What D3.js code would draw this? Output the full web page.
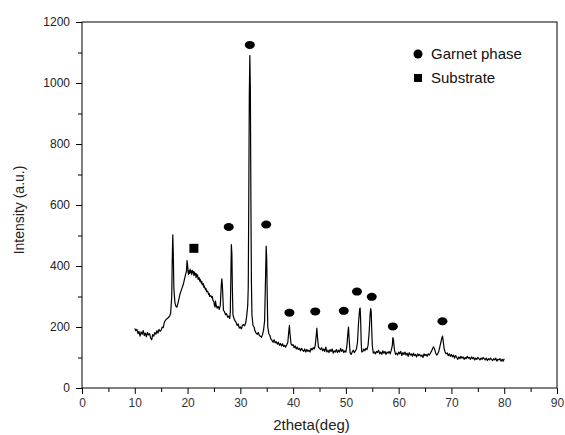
<!DOCTYPE html>
<html><head><meta charset="utf-8">
<script src="https://cdn.jsdelivr.net/npm/d3@7"></script>
<style>
html,body{margin:0;padding:0;background:#fff;}
svg{display:block;font-family:"Liberation Sans",Arial,sans-serif;}
</style></head>
<body><svg id="chart" width="565" height="435"></svg>
<script>
// XRD pattern: [2theta, intensity]
const pattern = [
[10.0,195],[10.2,188],[10.4,192],[10.6,178],[10.8,186],[11.0,170],[11.2,184],[11.4,176],[11.6,188],[11.8,172],
[12.0,180],[12.2,168],[12.4,182],[12.6,174],[12.8,178],[13.0,164],[13.2,158],[13.4,175],[13.6,170],[13.8,182],
[14.0,176],[14.2,188],[14.4,180],[14.6,192],[14.8,186],[15.0,190],[15.2,200],[15.4,198],[15.6,215],[15.8,222],
[16.0,226],[16.2,228],[16.4,232],[16.6,236],[16.8,245],[17.0,300],[17.1,420],[17.2,502],[17.3,440],[17.4,330],
[17.6,280],[17.8,268],[18.0,265],[18.2,280],[18.4,295],[18.6,310],[18.8,320],[19.0,330],[19.2,340],[19.4,355],
[19.6,370],[19.8,385],[19.9,418],[20.0,405],[20.1,380],[20.2,372],[20.3,385],[20.4,376],[20.5,390],[20.6,378],
[20.7,384],[20.8,372],[20.9,386],[21.0,378],[21.1,382],[21.2,368],[21.3,380],[21.4,372],[21.5,376],[21.6,362],
[21.7,374],[21.8,366],[21.9,370],[22.0,356],[22.2,362],[22.3,350],[22.4,356],[22.6,344],[22.7,350],[22.8,338],
[23.0,342],[23.1,330],[23.2,334],[23.4,322],[23.5,326],[23.6,316],[23.8,318],[24.0,306],[24.1,310],[24.2,300],
[24.4,303],[24.6,296],[24.7,300],[24.8,288],[25.0,282],[25.1,270],[25.2,265],[25.3,285],[25.4,272],[25.6,262],
[25.8,268],[26.0,258],[26.2,270],[26.4,340],[26.5,358],[26.6,335],[26.8,255],[27.0,250],
[27.2,240],[27.4,244],[27.6,232],[27.8,236],[28.0,228],[28.1,250],[28.2,360],[28.3,470],[28.4,440],[28.5,320],
[28.6,240],[28.8,228],[29.0,220],[29.2,215],[29.4,205],[29.6,210],[29.8,196],[30.0,200],[30.2,194],[30.4,205],
[30.6,208],[30.8,204],[31.0,212],[31.2,235],[31.4,270],[31.5,330],[31.6,620],[31.7,960],[31.8,1090],[31.9,980],
[32.0,620],[32.1,350],[32.2,240],[32.4,205],[32.6,200],[32.8,186],[33.0,180],[33.2,176],[33.4,182],[33.6,172],
[33.8,170],[34.0,166],[34.2,175],[34.4,190],[34.6,220],[34.8,380],[34.9,465],[35.0,420],[35.1,300],[35.2,200],
[35.4,178],[35.6,172],[35.8,160],[36.0,156],[36.2,150],[36.4,158],[36.6,148],[36.8,152],[37.0,144],[37.2,150],
[37.4,140],[37.6,146],[37.8,138],[38.0,145],[38.2,136],[38.4,140],[38.6,134],[38.8,142],[39.0,150],[39.2,190],
[39.3,205],[39.4,180],[39.6,145],[39.8,140],[40.0,142],[40.2,132],[40.4,138],[40.6,128],[40.8,134],[41.0,126],
[41.2,130],[41.4,122],[41.6,130],[41.8,124],[42.0,120],[42.2,128],[42.4,118],[42.6,126],[42.8,120],[43.0,124],
[43.2,118],[43.4,130],[43.6,125],[43.8,132],[44.0,128],[44.2,140],[44.4,175],[44.5,196],[44.6,170],[44.8,135],
[45.0,130],[45.2,126],[45.4,132],[45.6,122],[45.8,128],[46.0,120],[46.2,134],[46.4,118],[46.6,124],[46.8,116],
[47.0,126],[47.2,120],[47.4,128],[47.6,114],[47.8,122],[48.0,118],[48.2,126],[48.4,116],[48.6,124],[48.8,118],
[49.0,130],[49.2,120],[49.4,126],[49.6,116],[49.8,122],[50.0,118],[50.2,140],[50.4,185],[50.5,200],[50.6,165],
[50.8,115],[51.0,110],[51.2,118],[51.4,124],[51.6,116],[51.8,122],[52.0,128],[52.2,150],[52.4,215],[52.6,258],
[52.7,262],[52.8,220],[52.9,150],[53.0,118],[53.2,120],[53.4,128],[53.6,122],[53.8,130],[54.0,126],[54.2,140],
[54.4,180],[54.6,245],[54.7,260],[54.8,250],[54.9,190],[55.0,140],[55.2,114],[55.4,118],[55.6,112],[55.8,120],
[56.0,116],[56.2,124],[56.4,112],[56.6,118],[56.8,110],[57.0,122],[57.2,114],[57.4,120],[57.6,110],[57.8,118],
[58.0,114],[58.2,120],[58.4,112],[58.6,124],[58.8,140],[58.9,165],[59.0,160],[59.2,125],[59.4,110],[59.6,114],
[59.8,108],[60.0,118],[60.2,112],[60.4,120],[60.6,106],[60.8,116],[61.0,110],[61.2,118],[61.4,108],[61.6,114],
[61.8,104],[62.0,116],[62.2,108],[62.4,112],[62.6,104],[62.8,114],[63.0,106],[63.2,110],[63.4,102],[63.6,112],
[63.8,106],[64.0,110],[64.2,104],[64.4,108],[64.6,100],[64.8,112],[65.0,106],[65.2,110],[65.4,104],[65.6,112],
[65.8,108],[66.0,114],[66.2,120],[66.4,128],[66.6,135],[66.8,128],[67.0,115],[67.2,108],[67.4,112],[67.6,120],
[67.8,135],[68.0,150],[68.2,165],[68.3,170],[68.4,160],[68.6,130],[68.8,118],[69.0,112],[69.2,115],[69.4,106],
[69.6,112],[69.8,104],[70.0,110],[70.2,102],[70.4,108],[70.6,98],[70.8,106],[71.0,100],[71.2,94],[71.4,102],
[71.6,96],[71.8,104],[72.0,98],[72.2,102],[72.4,94],[72.6,100],[72.8,96],[73.0,104],[73.2,98],[73.4,100],
[73.6,94],[73.8,102],[74.0,96],[74.2,100],[74.4,92],[74.6,98],[74.8,94],[75.0,100],[75.2,96],[75.4,92],
[75.6,98],[75.8,94],[76.0,100],[76.2,96],[76.4,92],[76.6,98],[76.8,90],[77.0,96],[77.2,92],[77.4,98],
[77.6,94],[77.8,90],[78.0,96],[78.2,92],[78.4,98],[78.6,88],[78.8,94],[79.0,92],[79.2,96],[79.4,88],
[79.6,94],[79.8,88],[80.0,96]
];
// Peak markers
const garnetX = [27.8, 31.8, 34.9, 39.3, 44.2, 49.6, 52.1, 54.9, 58.9, 68.3];
const garnetY = [528, 1125, 536, 247, 251, 253, 316, 299, 202, 219];
const substrateX = [21.2];
const substrateY = [458];
const xTicks = [0,10,20,30,40,50,60,70,80,90];
const yTicks = [0,200,400,600,800,1000,1200];
const legendLabels = ["Garnet phase","Substrate"];

const svg = d3.select("#chart");
const L=82, R=557, T=22, B=388;
const x = d3.scaleLinear().domain([0,90]).range([L,R]);
const y = d3.scaleLinear().domain([0,1200]).range([B,T]);

// frame
svg.append("rect").attr("x",L).attr("y",T).attr("width",R-L).attr("height",B-T)
  .attr("fill","none").attr("stroke","#000").attr("stroke-width",1);

// x axis
const xAxis = svg.append("g").attr("transform",`translate(0,${B})`)
  .call(d3.axisBottom(x).tickValues(xTicks).tickSize(6).tickPadding(4).tickFormat(d3.format("d")));
xAxis.select(".domain").remove();
xAxis.selectAll("text").attr("font-size",12).attr("fill","#333").attr("font-family","Liberation Sans, Arial, sans-serif");
svg.append("g").attr("transform",`translate(0,${B})`)
  .call(d3.axisBottom(x).tickValues(d3.range(5,90,10)).tickSize(4).tickFormat(""))
  .select(".domain").remove();

// y axis
const yAxis = svg.append("g").attr("transform",`translate(${L},0)`)
  .call(d3.axisLeft(y).tickValues(yTicks).tickSize(6).tickPadding(6).tickFormat(d3.format("d")));
yAxis.select(".domain").remove();
yAxis.selectAll("text").attr("font-size",12).attr("fill","#222").attr("font-family","Liberation Sans, Arial, sans-serif");
svg.append("g").attr("transform",`translate(${L},0)`)
  .call(d3.axisLeft(y).tickValues(d3.range(100,1200,200)).tickSize(4).tickFormat(""))
  .select(".domain").remove();

// axis titles
svg.append("text").attr("x",(L+R)/2-8).attr("y",430).attr("text-anchor","middle")
  .attr("font-size",15).attr("fill","#222").text("2theta(deg)");
svg.append("text").attr("transform","translate(24,210) rotate(-90)").attr("text-anchor","middle")
  .attr("font-size",14).attr("fill","#222").text("Intensity (a.u.)");

// data line
const line = d3.line().x(d=>x(d[0])).y(d=>y(d[1]));
svg.append("path").datum(pattern).attr("d",line).attr("fill","none")
  .attr("stroke","#000").attr("stroke-width",1.2).attr("stroke-linejoin","round");

// markers
svg.append("g").selectAll("ellipse").data(garnetX).join("ellipse")
  .attr("cx",(d)=>x(d)).attr("cy",(d,i)=>y(garnetY[i])).attr("rx",5).attr("ry",4).attr("fill","#000");
svg.append("g").selectAll("rect").data(substrateX).join("rect")
  .attr("x",d=>x(d)-4.5).attr("y",(d,i)=>y(substrateY[i])-4.5).attr("width",9).attr("height",9).attr("fill","#000");

// legend
const lg = svg.append("g");
lg.append("circle").attr("cx",418).attr("cy",54).attr("r",4.5).attr("fill","#000");
lg.append("rect").attr("x",414).attr("y",74).attr("width",8).attr("height",8).attr("fill","#000");
lg.selectAll("text").data(legendLabels).join("text")
  .attr("x",431).attr("y",(d,i)=>59+i*24).attr("font-size",15).attr("fill","#111").text(d=>d);
</script></body></html>
